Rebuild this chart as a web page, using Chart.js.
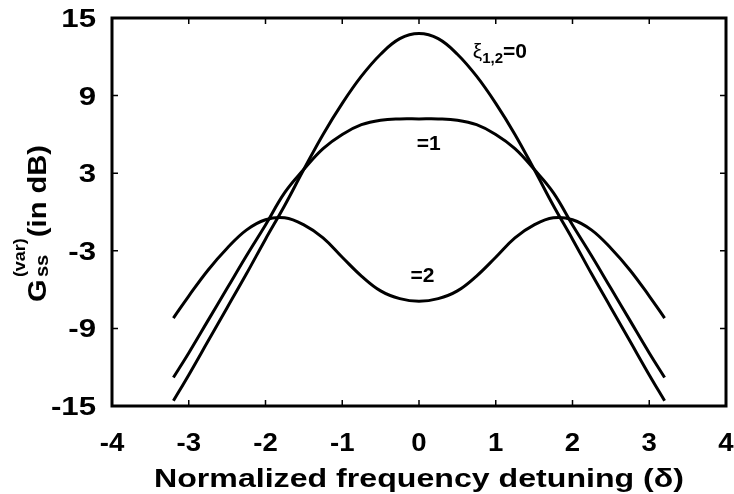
<!DOCTYPE html>
<html>
<head>
<meta charset="utf-8">
<script src="https://cdn.jsdelivr.net/npm/chart.js@4.4.1/dist/chart.umd.min.js"></script>
<style>
html, body { margin: 0; padding: 0; background: #fff; }
</style>
</head>
<body>
<canvas id="gain-chart" width="734" height="494"></canvas>
<script>
// values (normalized detuning vs steady-state gain in dB)
var detuning = [-3.2, -3, -2.75, -2.5, -2.25, -2, -1.75, -1.5, -1.25, -1, -0.75, -0.5, -0.25, 0,
                0.25, 0.5, 0.75, 1, 1.25, 1.5, 1.75, 2, 2.25, 2.5, 2.75, 3, 3.2];
var gain_xi0 = [-14.6, -12.6, -10.0, -7.4, -4.8, -2.1, 0.5, 3.3, 6.0, 8.4, 10.5, 12.2, 13.4, 13.8,
                13.4, 12.2, 10.5, 8.4, 6.0, 3.3, 0.5, -2.1, -4.8, -7.4, -10.0, -12.6, -14.6];
var gain_xi1 = [-12.8, -10.9, -8.4, -5.9, -3.4, -1.0, 1.5, 3.3, 4.9, 6.0, 6.75, 7.1, 7.2, 7.2,
                7.2, 7.1, 6.75, 6.0, 4.9, 3.3, 1.5, -1.0, -3.4, -5.9, -8.4, -10.9, -12.8];
var gain_xi2 = [-8.2, -6.5, -4.5, -2.8, -1.4, -0.6, -0.45, -1.0, -2.0, -3.5, -4.95, -6.1, -6.7, -6.9,
                -6.7, -6.1, -4.95, -3.5, -2.0, -1.0, -0.45, -0.6, -1.4, -2.8, -4.5, -6.5, -8.2];
var x_ticks = [-4, -3, -2, -1, 0, 1, 2, 3, 4];
var y_ticks = [-15, -9, -3, 3, 9, 15];
var curve_names = ['=0', '=1', '=2'];

var FONT = '"Liberation Sans", Arial, sans-serif';

function toPoints(ys) {
    var pts = [];
    for (let i = 0; i < detuning.length; i++) {
        pts.push({x: detuning[i], y: ys[i]});
    }
    return pts;
}

function curve(ys) {
    return {
        data: toPoints(ys),
        borderColor: '#000',
        borderWidth: 3,
        pointRadius: 0,
        fill: false,
        tension: 0.4
    };
}

function noPad(s) {
    s.paddingTop = 0; s.paddingBottom = 0;
    s.paddingLeft = 0; s.paddingRight = 0;
}

// text squeezed/stretched horizontally around its anchor
function wideText(ctx, text, x, y, sx) {
    ctx.save();
    ctx.translate(x, y);
    ctx.scale(sx, 1);
    ctx.fillText(text, 0, 0);
    ctx.restore();
}

// frame + inward ticks on all four sides, plus tick labels
const framePlugin = {
    id: 'frame',
    afterDatasetsDraw(chart) {
        const ctx = chart.ctx;
        const a = chart.chartArea;
        const xs = chart.scales.x;
        const ys = chart.scales.y;
        ctx.save();
        ctx.strokeStyle = '#000';
        ctx.lineWidth = 1.5;
        ctx.beginPath();
        x_ticks.forEach(v => {
            const px = xs.getPixelForValue(v);
            ctx.moveTo(px, a.bottom); ctx.lineTo(px, a.bottom - 6);
            ctx.moveTo(px, a.top); ctx.lineTo(px, a.top + 6);
        });
        y_ticks.forEach(v => {
            const py = ys.getPixelForValue(v);
            ctx.moveTo(a.left, py); ctx.lineTo(a.left + 6, py);
            ctx.moveTo(a.right, py); ctx.lineTo(a.right - 6, py);
        });
        ctx.stroke();
        ctx.lineWidth = 3;
        ctx.strokeRect(a.left, a.top, a.right - a.left, a.bottom - a.top);

        ctx.fillStyle = '#000';
        ctx.font = 'bold 26px ' + FONT;
        ctx.textBaseline = 'alphabetic';
        ctx.textAlign = 'center';
        x_ticks.forEach(v => {
            wideText(ctx, String(v), xs.getPixelForValue(v), a.bottom + 45, 1.06);
        });
        ctx.textAlign = 'right';
        y_ticks.forEach(v => {
            wideText(ctx, String(v), a.left - 16, ys.getPixelForValue(v) + 9, 1.2);
        });
        ctx.restore();
    }
};

// axis titles and curve labels (need sub/superscripts)
const textPlugin = {
    id: 'texts',
    afterDraw(chart) {
        const ctx = chart.ctx;
        const a = chart.chartArea;
        const xs = chart.scales.x;
        const ys = chart.scales.y;
        ctx.save();
        ctx.fillStyle = '#000';
        ctx.textBaseline = 'alphabetic';

        // x title (the original lettering is a bit wider than Arial)
        ctx.font = 'bold 26px ' + FONT;
        ctx.textAlign = 'center';
        const xt = 'Normalized frequency detuning (\u03b4)';
        wideText(ctx, xt, (a.left + a.right) / 2, 487, 530 / ctx.measureText(xt).width);

        // y title, rotated
        ctx.save();
        ctx.translate(46, 302);
        ctx.rotate(-Math.PI / 2);
        ctx.scale(1.12, 1);
        ctx.textAlign = 'left';
        let u = 0;
        ctx.font = 'bold 26px ' + FONT;
        ctx.fillText('G', u, 0);
        u += ctx.measureText('G').width + 2;
        ctx.font = 'bold 18px ' + FONT;
        ctx.fillText('ss', u, 2);
        let w1 = ctx.measureText('ss').width;
        ctx.font = 'bold 16px ' + FONT;
        ctx.fillText('(var)', u, -21);
        let w2 = ctx.measureText('(var)').width;
        u += Math.max(w1, w2) + 1;
        ctx.font = 'bold 26px ' + FONT;
        ctx.fillText('(in dB)', u, 0);
        ctx.restore();

        // curve labels
        ctx.textAlign = 'left';
        let px = xs.getPixelForValue(0.7);
        let py = ys.getPixelForValue(11.9);
        ctx.font = '21px ' + FONT;
        ctx.fillText('\u03be', px, py);
        px += ctx.measureText('\u03be').width;
        ctx.font = 'bold 15px ' + FONT;
        ctx.fillText('1,2', px, py + 5);
        px += ctx.measureText('1,2').width;
        ctx.font = 'bold 21px ' + FONT;
        ctx.fillText(curve_names[0], px, py);

        ctx.fillText(curve_names[1], xs.getPixelForValue(-0.03), ys.getPixelForValue(4.8));
        ctx.fillText(curve_names[2], xs.getPixelForValue(-0.11), ys.getPixelForValue(-5.4));
        ctx.restore();
    }
};

new Chart(document.getElementById('gain-chart'), {
    type: 'line',
    data: {
        datasets: [curve(gain_xi0), curve(gain_xi1), curve(gain_xi2)]
    },
    options: {
        responsive: false,
        animation: false,
        devicePixelRatio: 1,
        layout: { padding: { top: 18, right: 8, left: 0, bottom: 0 } },
        plugins: {
            legend: { display: false },
            tooltip: { enabled: false }
        },
        scales: {
            x: {
                type: 'linear',
                min: -4,
                max: 4,
                afterBuildTicks: s => { s.ticks = x_ticks.map(v => ({value: v})); },
                afterFit: s => { s.height = 88; noPad(s); },
                grid: { display: false },
                border: { display: false },
                ticks: { display: false }
            },
            y: {
                min: -15,
                max: 15,
                afterBuildTicks: s => { s.ticks = y_ticks.map(v => ({value: v})); },
                afterFit: s => { s.width = 112; noPad(s); },
                grid: { display: false },
                border: { display: false },
                ticks: { display: false }
            }
        }
    },
    plugins: [framePlugin, textPlugin]
});
</script>
</body>
</html>
